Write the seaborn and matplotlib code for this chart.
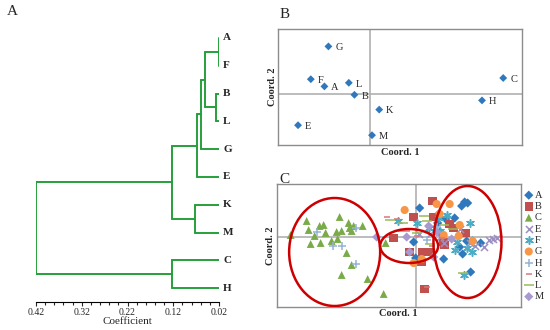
import matplotlib
matplotlib.use("Agg")
import matplotlib.pyplot as plt
from matplotlib.patches import Ellipse
from matplotlib.ticker import MultipleLocator
import seaborn as sb
import pandas as pd

sb.set_style("white")
plt.rcParams['font.family'] = ['Liberation Serif', 'DejaVu Serif']

# panel A: dendrogram
leaves = ['A', 'F', 'B', 'L', 'G', 'E', 'K', 'M', 'C', 'H']
leaf_level = 0.02
merge_left = ['A', 'B', 'AF', 'AFBL', 'AFBLG', 'K', 'AFBLGE', 'C', 'AFBLGEKM']
merge_right = ['F', 'L', 'BL', 'G', 'E', 'M', 'KM', 'H', 'CH']
merge_height = [0.021, 0.027, 0.051, 0.059, 0.068, 0.073, 0.122, 0.122, 0.42]

# panel B: PCoA of the groups
b_names = ['G', 'F', 'A', 'L', 'B', 'K', 'E', 'M', 'H', 'C']
b_x = [-0.104, -0.148, -0.114, -0.053, -0.039, 0.023, -0.180, 0.005, 0.280, 0.333]
b_y = [0.119, 0.037, 0.019, 0.028, -0.002, -0.039, -0.078, -0.103, -0.016, 0.040]

# panel C: PCoA of the individuals
c_A_x = [0.04, -0.02, 0.0, 0.22, 0.22, 0.30, 0.39, 0.46, 0.49, 0.52, 0.28, 0.44, 0.47, 0.51, 0.57, 0.65, 0.55, 0.24]
c_A_y = [0.29, -0.05, -0.21, 0.22, 0.14, 0.18, 0.19, 0.31, 0.35, 0.34, -0.22, -0.10, -0.17, -0.04, -0.04, -0.06, -0.35, 0.05]
c_B_x = [0.17, -0.02, -0.22, -0.06, 0.07, 0.13, 0.06, 0.09, 0.28, 0.29, 0.34, 0.38, 0.50, 0.18]
c_B_y = [0.36, 0.20, -0.01, -0.15, -0.15, -0.15, -0.25, -0.52, -0.05, -0.08, 0.13, 0.09, 0.04, 0.20]
c_C_x = [-1.25, -1.09, -1.07, -0.96, -0.92, -0.90, -1.01, -1.05, -0.95, -0.84, -0.78, -0.79, -0.74,
         -0.76, -0.67, -0.66, -0.62, -0.64, -0.53, -0.69, -0.64, -0.74, -0.48, -0.30, -0.32]
c_C_y = [0.02, 0.16, 0.07, 0.11, 0.12, 0.04, 0.01, -0.07, -0.06, -0.04, -0.02, 0.05, 0.06,
         0.20, 0.14, 0.09, 0.11, 0.06, 0.11, -0.16, -0.28, -0.38, -0.42, -0.06, -0.57]
c_E_x = [0.03, 0.14, 0.24, 0.44, 0.54, 0.59, 0.68, 0.73, 0.77, 0.81, 0.28]
c_E_y = [0.03, 0.03, 0.0, 0.08, -0.06, -0.09, -0.10, -0.03, -0.02, -0.01, -0.06]
c_F_x = [-0.18, 0.01, 0.23, 0.31, 0.54, 0.39, 0.51, 0.56, 0.48, 0.24, 0.13, 0.41]
c_F_y = [0.16, 0.14, 0.19, 0.22, 0.14, -0.13, -0.11, -0.15, -0.38, 0.06, 0.09, -0.05]
c_G_x = [-0.11, 0.21, 0.34, 0.24, 0.44, 0.43, 0.57, 0.06, -0.02, 0.28]
c_G_y = [0.27, 0.33, 0.33, 0.23, 0.12, 0.01, -0.04, -0.22, -0.26, 0.02]
c_H_x = [-0.99, -0.83, -0.74, -0.60, -0.60, 0.11, 0.21]
c_H_y = [0.05, -0.09, -0.09, 0.09, -0.27, -0.03, 0.10]
c_K_x = [-0.29, -0.19, -0.15, -0.09, 0.01, 0.11, 0.26, 0.16]
c_K_y = [0.20, 0.18, 0.06, 0.06, 0.01, -0.50, -0.01, -0.09]
c_L_x = [-0.26, -0.13, 0.08, 0.11, 0.14, 0.37, 0.47, 0.01, 0.28]
c_L_y = [0.17, 0.14, 0.21, 0.16, -0.07, 0.08, -0.36, 0.04, 0.12]
c_M_x = [-0.39, -0.09, -0.06, 0.13, 0.36, 0.21, 0.18]
c_M_y = [0.0, 0.0, -0.15, 0.11, -0.02, 0.05, -0.20]

groups = ['A', 'B', 'C', 'E', 'F', 'G', 'H', 'K', 'L', 'M']
group_x = [c_A_x, c_B_x, c_C_x, c_E_x, c_F_x, c_G_x, c_H_x, c_K_x, c_L_x, c_M_x]
group_y = [c_A_y, c_B_y, c_C_y, c_E_y, c_F_y, c_G_y, c_H_y, c_K_y, c_L_y, c_M_y]
group_marker = ['D', 's', '^', 'x', (6, 2, 0), 'o', '+', '_', '_', 'D']
group_size = [22, 36, 32, 26, 30, 34, 30, 20, 44, 22]
group_color = ['#2f78bd', '#c0504d', '#7aab48', '#9d8ec4', '#4bacc6', '#f79646',
               '#95b3d7', '#d9777a', '#9bbb59', '#a899cf']

# ellipses around the three clusters: center x, center y, width, height
ell_x = [-0.81, -0.065, 0.518]
ell_y = [-0.15, -0.09, -0.05]
ell_w = [0.91, 0.58, 0.68]
ell_h = [1.08, 0.34, 1.12]

fig = plt.figure(figsize=(5.5, 3.3), dpi=100)

# ---------- A ----------
axA = fig.add_axes([0.0655, 0.0848, 0.3327, 0.8424])
pos = {name: (leaf_level, i) for i, name in enumerate(leaves)}
green = '#26a03a'
for left, right, h in zip(merge_left, merge_right, merge_height):
    hl, yl = pos[left]
    hr, yr = pos[right]
    axA.plot([hl, h], [yl, yl], color=green, lw=1.4)
    axA.plot([hr, h], [yr, yr], color=green, lw=1.4)
    axA.plot([h, h], [yl, yr], color=green, lw=1.4)
    pos[left + right] = (h, (yl + yr) / 2)
for i, name in enumerate(leaves):
    axA.annotate(name, (leaf_level, i), xytext=(3, 0), textcoords='offset points',
                 va='center', ha='left', fontsize=8, fontweight='bold', annotation_clip=False)
axA.set_xlim(0.42, 0.02)
axA.set_ylim(9.5, -0.5)
for s in ['top', 'left', 'right']:
    axA.spines[s].set_visible(False)
axA.spines['bottom'].set_color('black')
axA.spines['bottom'].set_linewidth(0.8)
axA.set_yticks([])
axA.set_xticks([0.42, 0.32, 0.22, 0.12, 0.02])
axA.set_xticklabels(['0.42', '0.32', '0.22', '0.12', '0.02'])
axA.xaxis.set_minor_locator(MultipleLocator(0.02))
axA.tick_params(axis='x', which='major', direction='out', length=3, width=0.8, labelsize=7, pad=1, bottom=True)
axA.tick_params(axis='x', which='minor', direction='out', length=2.5, width=0.8, bottom=True)
axA.set_xlabel('Coefficient', fontsize=8, labelpad=0)
fig.text(0.012, 0.965, 'A', fontsize=11, va='center')

# ---------- B ----------
axB = fig.add_axes([0.5055, 0.5606, 0.4436, 0.3515])
dfB = pd.DataFrame({'x': b_x, 'y': b_y, 'name': b_names})
axB.axhline(0, color='#b0b0b0', lw=1.2, zorder=0)
axB.axvline(0, color='#b0b0b0', lw=1.2, zorder=0)
sb.scatterplot(data=dfB, x='x', y='y', marker='D', s=16, color='#2f78bd', edgecolor='none', ax=axB)
for _, r in dfB.iterrows():
    axB.annotate(r['name'], (r['x'], r['y']), xytext=(5, -1), textcoords='offset points',
                 va='center', ha='left', fontsize=7.5)
axB.set_xlim(-0.23, 0.38)
axB.set_ylim(-0.1275, 0.1625)
axB.set_xticks([])
axB.set_yticks([])
for s in axB.spines.values():
    s.set_color('#8c8c8c')
    s.set_linewidth(1)
axB.set_xlabel('Coord. 1', fontsize=7.5, fontweight='bold', labelpad=2)
axB.set_ylabel('Coord. 2', fontsize=7.5, fontweight='bold', labelpad=1)
fig.text(0.508, 0.955, 'B', fontsize=11, va='center')

# ---------- C ----------
axC = fig.add_axes([0.503, 0.0706, 0.4442, 0.3718])
axC.axhline(0, color='#b0b0b0', lw=1.2, zorder=0)
axC.axvline(0, color='#b0b0b0', lw=1.2, zorder=0)
for g, xs, ys, m, sz, c in zip(groups, group_x, group_y, group_marker, group_size, group_color):
    if m in ['x', '+', '_', (6, 2, 0)]:
        sb.scatterplot(x=xs, y=ys, marker=m, s=sz, color=c, linewidth=1.1, ax=axC, label=g)
    else:
        sb.scatterplot(x=xs, y=ys, marker=m, s=sz, color=c, edgecolor='none', ax=axC, label=g)
for ex, ey, ew, eh in zip(ell_x, ell_y, ell_w, ell_h):
    axC.add_patch(Ellipse((ex, ey), ew, eh, fill=False, edgecolor='#cc0000', lw=1.8, zorder=5))
axC.set_xlim(-1.39, 1.053)
axC.set_ylim(-0.697, 0.53)
axC.set_xticks([])
axC.set_yticks([])
for s in axC.spines.values():
    s.set_color('#8c8c8c')
    s.set_linewidth(1)
axC.set_xlabel('Coord. 1', fontsize=7.5, fontweight='bold', labelpad=2)
axC.set_ylabel('Coord. 2', fontsize=7.5, fontweight='bold', labelpad=1)
axC.legend(loc='upper left', bbox_to_anchor=(1.0, 0.98), frameon=False, fontsize=7.5,
           handlelength=0.7, handletextpad=0.2, labelspacing=0.19, borderpad=0.1, borderaxespad=0.3)
fig.text(0.508, 0.455, 'C', fontsize=11, va='center')

fig.savefig('out.png', dpi=100)
